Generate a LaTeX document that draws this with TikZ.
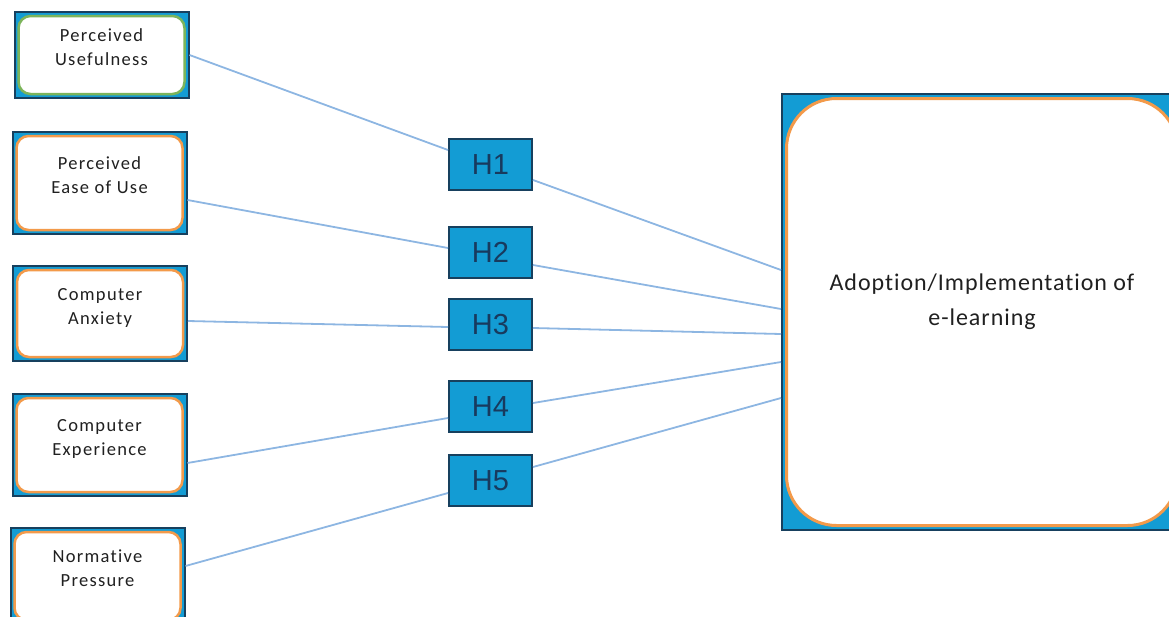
\documentclass[tikz,border=0pt]{standalone}
\usepackage{fontspec}
\newfontfamily\factorfont[LetterSpace=7,RawFeature=-liga]{Carlito}
\newfontfamily\outcomefont[LetterSpace=4,RawFeature=-liga]{Carlito}
\newfontfamily\hypfont{Liberation Sans}
\usepackage{tikz}
\usetikzlibrary{positioning}
\definecolor{boxblue}{HTML}{139CD4}
\definecolor{boxnavy}{HTML}{17405E}
\definecolor{rimorange}{HTML}{F39A4A}
\definecolor{rimgreen}{HTML}{7CB45A}
\definecolor{hnavy}{HTML}{183A5E}
\definecolor{linkblue}{HTML}{8DB6E2}
\definecolor{textgray}{HTML}{202020}
\tikzset{every picture/.style={line width=0.75pt}}

\begin{document}
\begin{tikzpicture}[x=1pt,y=-1pt,
    factor/.style={draw=boxnavy, line width=2pt, fill=boxblue, minimum width=174pt, inner sep=0pt,
        align=center, text depth=15pt, text=textgray, font=\factorfont\fontsize{18.5}{24}\selectfont,
        path picture={\draw[draw=#1, line width=2.5pt, fill=white, rounded corners=12pt]
            ([shift={(4pt,4pt)}]path picture bounding box.south west) rectangle
            ([shift={(-4pt,-4pt)}]path picture bounding box.north east);}},
    factor/.default=rimorange,
    hyp/.style={draw=boxnavy, line width=2pt, fill=boxblue, minimum width=83pt, minimum height=51pt,
        inner sep=0pt, text=hnavy, font=\hypfont\fontsize{29}{34}\selectfont},
    outcome/.style={draw=boxnavy, line width=2pt, fill=boxblue, minimum width=400pt, minimum height=436pt,
        inner sep=0pt, align=center, text depth=25pt, text=textgray, font=\outcomefont\fontsize{24}{35}\selectfont,
        path picture={\draw[draw=rimorange, line width=3pt, fill=white, rounded corners=50pt]
            ([shift={(4.5pt,4.5pt)}]path picture bounding box.south west) rectangle
            ([shift={(-4.5pt,-4.5pt)}]path picture bounding box.north east);}},
    link/.style={draw=linkblue, line width=1.8pt}]
    \useasboundingbox (0,0) rectangle (1169,616);

    % factors
    \node[factor=rimgreen, minimum height=86pt] (pu) at (101.5,55) {Perceived\\Usefulness};
    \node[factor, minimum height=102pt, below of=pu, node distance=128pt, xshift=-2pt] (pe) {Perceived\\Ease of Use};
    \node[factor, minimum height=95pt, below of=pe, node distance=130.5pt, xshift=0.5pt] (ca) {Computer\\Anxiety};
    \node[factor, minimum height=102pt, below of=ca, node distance=131.5pt, xshift=-0.5pt] (cx) {Computer\\Experience};
    \node[factor, minimum height=96pt, below of=cx, node distance=131pt, xshift=-2pt] (np) {Normative\\Pressure};

    % hypotheses
    \node[hyp] (h1) at (490.5,164.5) {H1\hspace{4pt}};
    \node[hyp, below of=h1, node distance=88pt] (h2) {H2\hspace{4pt}};
    \node[hyp, below of=h2, node distance=72pt] (h3) {H3\hspace{4pt}};
    \node[hyp, below of=h3, node distance=82pt] (h4) {H4\hspace{4pt}};
    \node[hyp, below of=h4, node distance=74pt] (h5) {H5\hspace{4pt}};

    % outcome
    \node[outcome] (ad) at (982,312) {Adoption/Implementation of\\e-learning};

    \draw[link]
        (pu.east) edge ([yshift=14.5pt]h1.west)
        ([yshift=-17pt]pe.east) edge ([yshift=4.5pt]h2.west)
        ([yshift=-7.5pt]ca.east) edge ([yshift=-2.5pt]h3.west)
        ([yshift=-18pt]cx.east) edge ([yshift=-11.5pt]h4.west)
        ([yshift=10pt]np.east) edge ([yshift=-12.5pt]h5.west)
        ([yshift=-15.5pt]h1.east) edge ([yshift=42pt]ad.west)
        ([yshift=-12.5pt]h2.east) edge ([yshift=3pt]ad.west)
        ([yshift=-3.5pt]h3.east) edge ([yshift=-22pt]ad.west)
        ([yshift=3.5pt]h4.east) edge ([yshift=-50pt]ad.west)
        ([yshift=13.5pt]h5.east) edge ([yshift=-86pt]ad.west)
        ;
\end{tikzpicture}
\end{document}
